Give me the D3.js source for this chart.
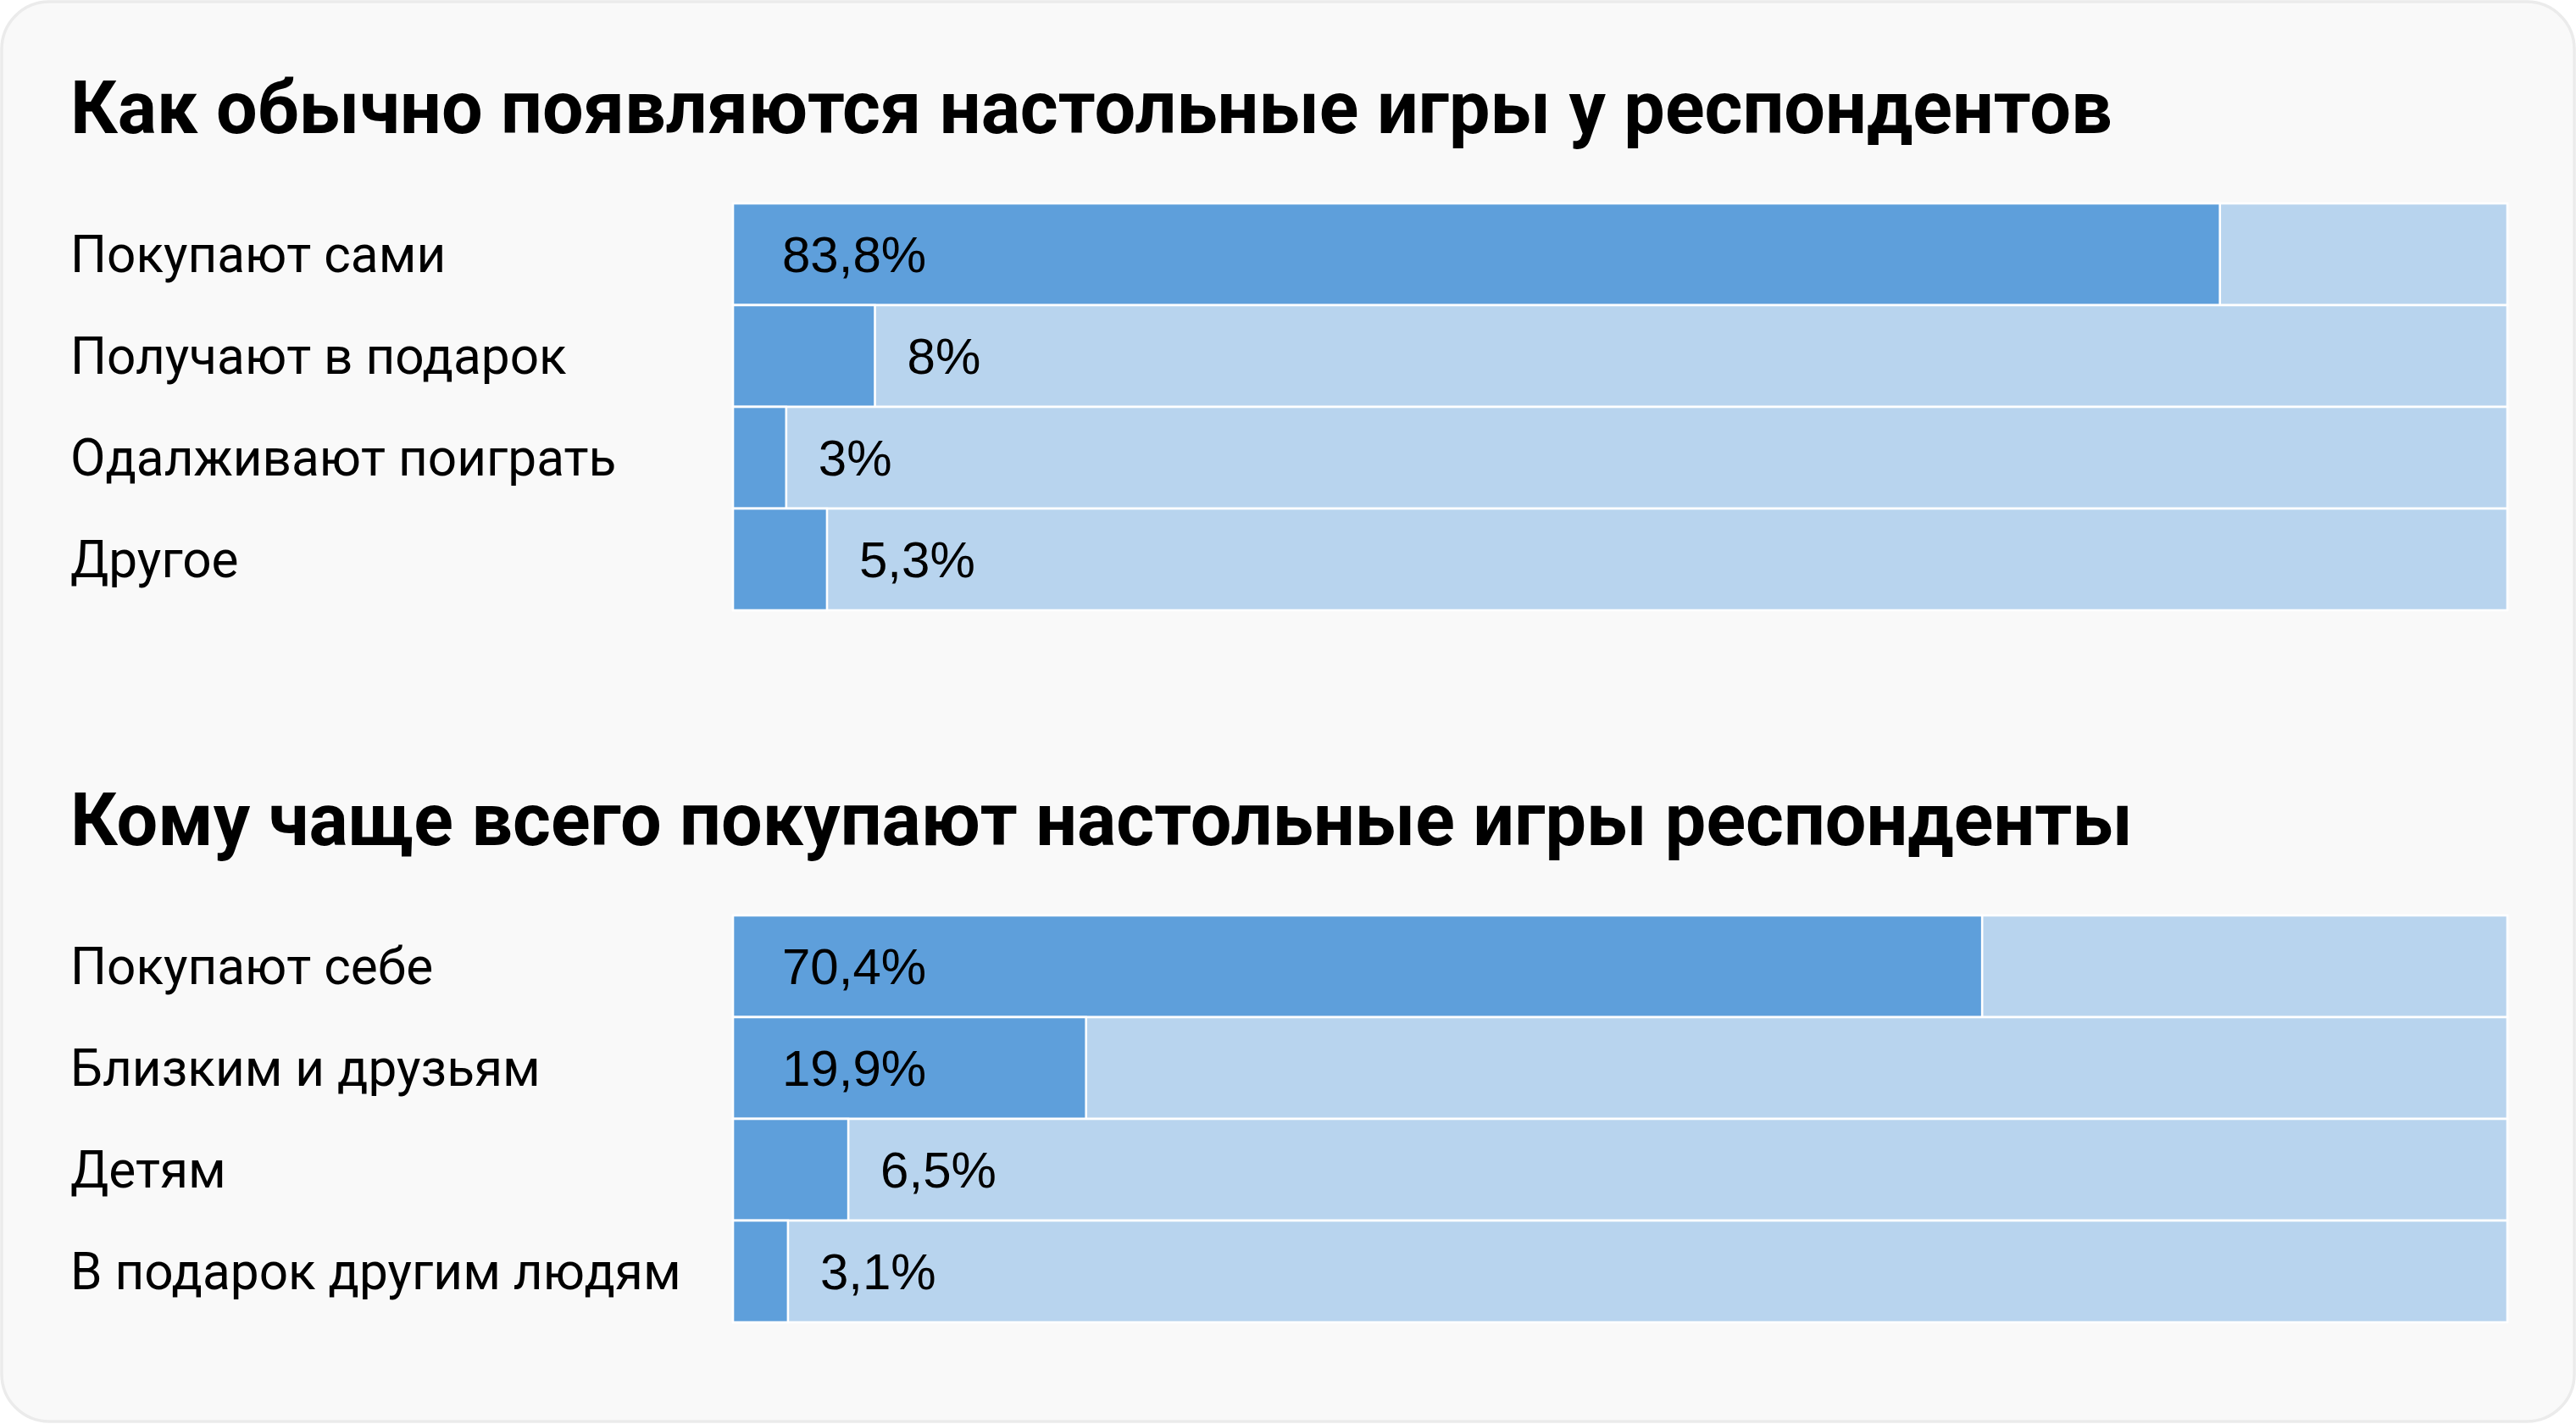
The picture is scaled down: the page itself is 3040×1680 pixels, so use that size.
<!DOCTYPE html>
<html>
<head>
<meta charset="utf-8">
<script src="https://cdn.jsdelivr.net/npm/d3@7"></script>
<style>
  html, body { margin: 0; padding: 0; background: #ffffff; }
  svg { display: block; }
</style>
</head>
<body>
<svg id="chart" width="3040" height="1680"></svg>
<script>
// ---- Data ----
const title1 = "Как обычно появляются настольные игры у респондентов";
const categories1 = ["Покупают сами", "Получают в подарок", "Одалживают поиграть", "Другое"];
const values1 = [83.8, 8, 3, 5.3];

const title2 = "Кому чаще всего покупают настольные игры респонденты";
const categories2 = ["Покупают себе", "Близким и друзьям", "Детям", "В подарок другим людям"];
const values2 = [70.4, 19.9, 6.5, 3.1];

const maxValue = 100;

// ---- Styles ----
const W = 3040, H = 1680;
const colDark = "#5e9fdb";
const colLight = "#b8d4ee";
const bg = "#f9f9f9";
const fontFamily = "Roboto, 'Noto Sans', sans-serif";
const valueFont = "'Liberation Sans', Arial, sans-serif";

const svg = d3.select("#chart");

svg.append("rect")
  .attr("x", 2).attr("y", 2)
  .attr("width", W - 4).attr("height", H - 5)
  .attr("rx", 56).attr("ry", 56)
  .attr("fill", bg)
  .attr("stroke", "#ebebeb")
  .attr("stroke-width", 3.5);

const x = d3.scaleLinear().domain([0, maxValue]).range([865, 2959]);
const fmt = v => String(v).replace(".", ",") + "%";

function section(title, cats, vals, titleBaseline, barTop) {
  const g = svg.append("g");
  g.append("text")
    .attr("x", 83).attr("y", titleBaseline)
    .attr("font-family", fontFamily)
    .attr("font-weight", 700)
    .attr("font-size", 86.3)
    .attr("fill", "#000")
    .text(title);

  const y = d3.scaleBand().domain(cats).range([barTop, barTop + cats.length * 120]).padding(0);
  const data = cats.map((c, i) => ({ c, v: vals[i] }));

  const rows = g.selectAll("g.row").data(data).join("g").attr("class", "row");

  rows.append("rect")
    .attr("x", x(0)).attr("y", d => y(d.c))
    .attr("width", x(maxValue) - x(0)).attr("height", y.bandwidth())
    .attr("fill", colLight)
    .attr("stroke", "#ffffff").attr("stroke-width", 2.6);

  rows.append("rect")
    .attr("x", x(0)).attr("y", d => y(d.c))
    .attr("width", d => x(d.v) - x(0)).attr("height", y.bandwidth())
    .attr("fill", colDark)
    .attr("stroke", "#ffffff").attr("stroke-width", 2.6);

  rows.append("text")
    .attr("x", 83)
    .attr("y", d => y(d.c) + y.bandwidth() / 2 + 21)
    .attr("font-family", fontFamily)
    .attr("font-size", 60.3)
    .attr("fill", "#000")
    .text(d => d.c);

  rows.append("text")
    .attr("x", d => d.v > 15 ? x(0) + 58 : x(d.v) + 38)
    .attr("y", d => y(d.c) + y.bandwidth() / 2 + 21)
    .attr("font-family", valueFont)
    .attr("font-size", 60)
    .attr("fill", "#000")
    .text(d => fmt(d.v));
}

section(title1, categories1, values1, 157, 240);
section(title2, categories2, values2, 997, 1080);
</script>
</body>
</html>
